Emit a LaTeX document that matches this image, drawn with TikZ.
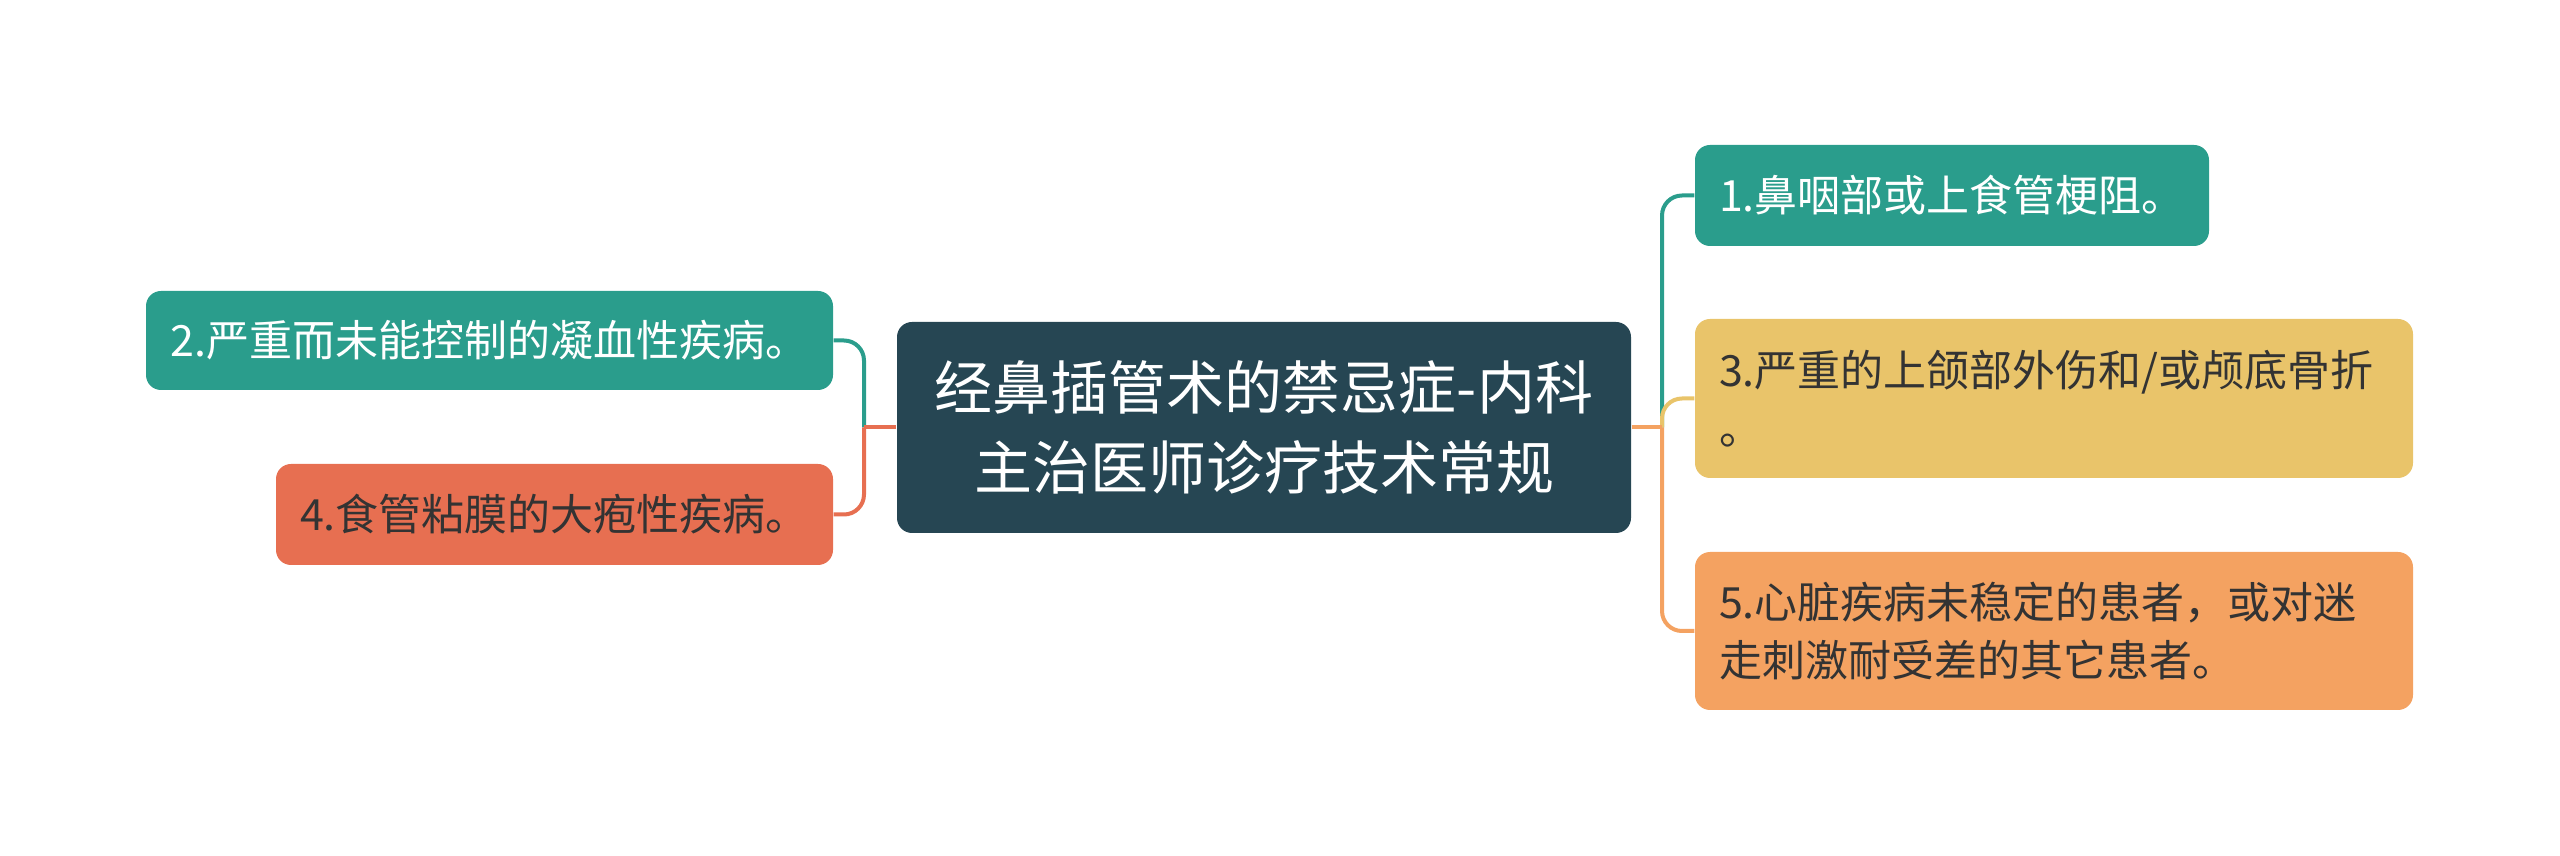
\documentclass[tikz,border=0pt]{standalone}
\usepackage{fontspec}
\setmainfont{Noto Sans CJK SC}
\definecolor{mapteal}{HTML}{2A9D8C}
\definecolor{mapdark}{HTML}{264653}
\definecolor{mapyellow}{HTML}{E9C46A}
\definecolor{maporange}{HTML}{F4A261}
\definecolor{mapred}{HTML}{E76F51}
\definecolor{maptext}{HTML}{333333}
\tikzset{
  topic/.style={rectangle, rounded corners=4.5pt, inner sep=0pt, align=left,
    font=\fontsize{12.9pt}{17.4pt}\selectfont},
  widetopic/.style={topic, inner xsep=7.2pt, text width=201pt},
  branch/.style={line width=1.2pt, rounded corners=6pt},
}

\begin{document}
\begin{tikzpicture}[x=0.3pt, y=-0.3pt]
    \useasboundingbox (0,0) rectangle (2560,856);
    \node [topic, fill=mapdark, text=white, align=center, minimum width=220.2pt, minimum height=63.3pt,
      font=\fontsize{17.4pt}{24pt}\selectfont] (root) at (1264,427.5) {经鼻插管术的禁忌症-内科\\主治医师诊疗技术常规};
    \node [topic, fill=mapteal, text=white, minimum width=206.1pt, minimum height=29.7pt] (leftup) at (489.5,340.5) {2.严重而未能控制的凝血性疾病。};
    \node [topic, fill=mapred, text=maptext, minimum width=167.1pt, minimum height=30.3pt] (leftdown) at (554.5,514.5) {4.食管粘膜的大疱性疾病。};
    \node [topic, fill=mapteal, text=white, minimum width=154.2pt, minimum height=30.3pt] (rightup) at (1952,195.5) {1.鼻咽部或上食管梗阻。};
    \node [widetopic, fill=mapyellow, text=maptext, minimum height=47.7pt] (rightmid) at (2054,398.5) {3.严重的上颌部外伤和/或颅底骨折\\。};
    \node [widetopic, fill=maporange, text=maptext, minimum height=47.4pt] (rightdown) at (2054,631) {5.心脏疾病未稳定的患者，或对迷\\走刺激耐受差的其它患者。};
    \coordinate (lefthub) at (864,427.5);
    \coordinate (righthub) at (1662,427.5);
    \draw [branch, mapteal] (lefthub) |- (leftup.east);
    \draw [branch, mapred] (lefthub) |- (leftdown.east);
    \draw [branch, mapred] (root.west) -- (lefthub);
    \draw [branch, mapteal] (righthub) |- (rightup.west);
    \draw [branch, mapyellow] (righthub) |- (rightmid.west);
    \draw [branch, maporange] (righthub) |- (rightdown.west);
    \draw [branch, maporange] (root.east) -- (righthub);
  \end{tikzpicture}
\end{document}
